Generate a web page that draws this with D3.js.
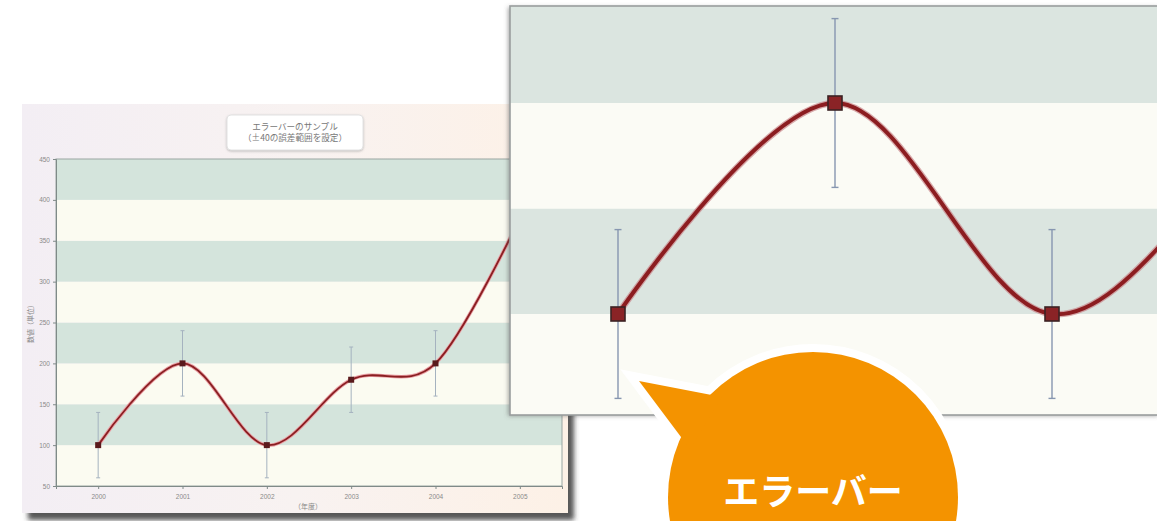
<!DOCTYPE html>
<html><head><meta charset="utf-8">
<script src="https://cdn.jsdelivr.net/npm/d3@7"></script>
<style>
html,body{margin:0;padding:0;background:#fff;}
svg{display:block;font-family:"Noto Sans CJK JP","Noto Sans",sans-serif;}
</style></head>
<body>
<svg id="c" width="1157" height="521"></svg>
<script>
// ---- data ----
const years = ["2000","2001","2002","2003","2004","2005"];
const values = [100, 200, 100, 180, 200, 378];
const errors = [40, 40, 40, 40, 40, 40];
const yTicks = [50,100,150,200,250,300,350,400,450];
const titleLines = ["エラーバーのサンプル","（±40の誤差範囲を設定）"];
const yTitle = "数値（単位）";
const xTitle = "（年度）";
const calloutText = "エラーバー";

const svg = d3.select("#c");
const defs = svg.append("defs");

// gradients / filters
const g1 = defs.append("linearGradient").attr("id","cardBg").attr("x1","0").attr("x2","1").attr("y1","0").attr("y2","0");
g1.append("stop").attr("offset","0").attr("stop-color","#f3eef4");
g1.append("stop").attr("offset","0.5").attr("stop-color","#f8f2f1");
g1.append("stop").attr("offset","1").attr("stop-color","#fdf1e6");
const f1 = defs.append("filter").attr("id","shadow").attr("x","-5%").attr("y","-5%").attr("width","115%").attr("height","120%");
f1.append("feDropShadow").attr("dx",6).attr("dy",7).attr("stdDeviation",2.5).attr("flood-color","#3a3a3a").attr("flood-opacity",0.85);
const f2 = defs.append("filter").attr("id","shadow2").attr("x","-5%").attr("y","-5%").attr("width","115%").attr("height","120%");
f2.append("feDropShadow").attr("dx",-2).attr("dy",1).attr("stdDeviation",2).attr("flood-color","#555").attr("flood-opacity",0.5);
const f3 = defs.append("filter").attr("id","soft").attr("x","-10%").attr("y","-10%").attr("width","120%").attr("height","130%");
f3.append("feDropShadow").attr("dx",0).attr("dy",1).attr("stdDeviation",1).attr("flood-color","#999").attr("flood-opacity",0.6);

// ---------- main chart ----------
const M = {l:56, t:159, r:562, b:486};
const x = d3.scalePoint().domain(years).range([M.l, M.r]).padding(0.5);
const y = d3.scaleLinear().domain([yTicks[0], yTicks[yTicks.length-1]]).range([M.b, M.t]);

svg.append("rect").attr("x",22).attr("y",104).attr("width",546).attr("height",409)
  .attr("fill","url(#cardBg)").attr("filter","url(#shadow)");

const main = svg.append("g");
// stripes
const bands = d3.pairs(yTicks);
main.selectAll("rect.band").data(bands).join("rect").attr("class","band")
  .attr("x",M.l).attr("width",M.r-M.l)
  .attr("y",d=>y(d[1])).attr("height",d=>y(d[0])-y(d[1]))
  .attr("fill",(d,i)=> i%2===0 ? "#fbfbf1" : "#d4e4dc");
main.append("rect").attr("x",M.l).attr("y",M.t).attr("width",M.r-M.l).attr("height",M.b-M.t)
  .attr("fill","none").attr("stroke","#9aa6a2").attr("stroke-width",1);

// axes
const ya = main.append("g").attr("transform",`translate(${M.l},0)`)
  .call(d3.axisLeft(y).tickValues(yTicks).tickSize(3).tickPadding(3));
const xa = main.append("g").attr("transform",`translate(0,${M.b})`)
  .call(d3.axisBottom(x).tickSize(3).tickPadding(5));
[ya,xa].forEach(a=>{
  a.selectAll("path,line").attr("stroke","#7f8a88");
  a.selectAll("text").attr("fill","#8a8a8a").attr("font-size","6.5px");
});

main.append("text").attr("transform","translate(33,322) rotate(-90)").attr("text-anchor","middle")
  .attr("font-size","7px").attr("fill","#888").text(yTitle);
main.append("text").attr("x",308).attr("y",509).attr("text-anchor","middle")
  .attr("font-size","7px").attr("fill","#888").text(xTitle);

// title box
main.append("rect").attr("x",227).attr("y",115).attr("width",136).attr("height",35).attr("rx",4)
  .attr("fill","#fff").attr("stroke","#e2e2e2").attr("filter","url(#soft)");
titleLines.forEach((t,i)=>{
  main.append("text").attr("x",295).attr("y",130+i*11).attr("text-anchor","middle")
    .attr("font-size","8.6px").attr("fill","#777").text(t);
});

const pts = years.map((yr,i)=>({yr, v:values[i], e:errors[i]}));
// error bars
const eb = main.append("g").attr("stroke","#a5b2bf").attr("stroke-width",1);
pts.forEach(p=>{
  const cx = x(p.yr);
  eb.append("line").attr("x1",cx).attr("x2",cx).attr("y1",y(p.v+p.e)).attr("y2",y(p.v-p.e));
  eb.append("line").attr("x1",cx-2).attr("x2",cx+2).attr("y1",y(p.v+p.e)).attr("y2",y(p.v+p.e));
  eb.append("line").attr("x1",cx-2).attr("x2",cx+2).attr("y1",y(p.v-p.e)).attr("y2",y(p.v-p.e));
});
const line = d3.line().x(d=>x(d.yr)).y(d=>y(d.v)).curve(d3.curveCardinal.tension(0));
main.append("path").attr("d",line(pts)).attr("fill","none").attr("stroke","#eaa0a6").attr("stroke-width",3.6);
main.append("path").attr("d",line(pts)).attr("fill","none").attr("stroke","#8a1f22").attr("stroke-width",1.8);
main.selectAll("rect.mk").data(pts).join("rect").attr("class","mk")
  .attr("x",d=>x(d.yr)-3).attr("y",d=>y(d.v)-3).attr("width",6).attr("height",6)
  .attr("fill","#5a1a1c");

// ---------- inset (zoomed) ----------
const I = {l:510, t:6, r:1160, b:415};
const xi = d3.scaleLinear().domain([+years[0], +years[1]]).range([618, 835]);
const yi = d3.scaleLinear().domain([100, 200]).range([314, 103]);
defs.append("clipPath").attr("id","ic").append("rect")
  .attr("x",I.l).attr("y",I.t).attr("width",I.r-I.l).attr("height",I.b-I.t);
svg.append("rect").attr("x",I.l).attr("y",I.t).attr("width",I.r-I.l).attr("height",I.b-I.t)
  .attr("fill","#fbfbf5").attr("filter","url(#shadow2)");
const ins = svg.append("g").attr("clip-path","url(#ic)");
ins.selectAll("rect.band").data(bands).join("rect").attr("class","band")
  .attr("x",I.l).attr("width",I.r-I.l)
  .attr("y",d=>yi(d[1])).attr("height",d=>yi(d[0])-yi(d[1]))
  .attr("fill",(d,i)=> i%2===0 ? "#fbfbf5" : "#dbe5e0");
const eb2 = ins.append("g").attr("stroke","#8796b0").attr("stroke-width",1.4);
pts.forEach(p=>{
  const cx = xi(+p.yr);
  eb2.append("line").attr("x1",cx).attr("x2",cx).attr("y1",yi(p.v+p.e)).attr("y2",yi(p.v-p.e));
  eb2.append("line").attr("x1",cx-3.5).attr("x2",cx+3.5).attr("y1",yi(p.v+p.e)).attr("y2",yi(p.v+p.e));
  eb2.append("line").attr("x1",cx-3.5).attr("x2",cx+3.5).attr("y1",yi(p.v-p.e)).attr("y2",yi(p.v-p.e));
});
const line2 = d3.line().x(d=>xi(+d.yr)).y(d=>yi(d.v)).curve(d3.curveCardinal.tension(0));
ins.append("path").attr("d",line2(pts)).attr("fill","none").attr("stroke","#c9868a").attr("stroke-width",6.5).attr("opacity",0.7);
ins.append("path").attr("d",line2(pts)).attr("fill","none").attr("stroke","#8c1d20").attr("stroke-width",4);
ins.selectAll("rect.mk").data(pts).join("rect").attr("class","mk")
  .attr("x",d=>xi(+d.yr)-7).attr("y",d=>yi(d.v)-7).attr("width",14).attr("height",14)
  .attr("fill","#8a2326").attr("stroke","#3b2224").attr("stroke-width",1.6);
svg.append("rect").attr("x",I.l).attr("y",I.t).attr("width",I.r-I.l).attr("height",I.b-I.t)
  .attr("fill","none").attr("stroke","#9a9e9e").attr("stroke-width",1.6);

// ---------- callout ----------
const cx0 = 813, cy0 = 497, R = 145;
const tri = [[639,381],[722,397],[690,449]];
const co = svg.append("g");
co.append("circle").attr("cx",cx0).attr("cy",cy0).attr("r",R).attr("fill","#fff").attr("stroke","#fff").attr("stroke-width",16);
co.append("polygon").attr("points",tri.map(p=>p.join(",")).join(" ")).attr("fill","#fff")
  .attr("stroke","#fff").attr("stroke-width",16).attr("stroke-linejoin","miter").attr("stroke-miterlimit",10);
co.append("circle").attr("cx",cx0).attr("cy",cy0).attr("r",R).attr("fill","#f49300");
co.append("polygon").attr("points",tri.map(p=>p.join(",")).join(" ")).attr("fill","#f49300");
co.append("text").attr("x",cx0).attr("y",505).attr("text-anchor","middle")
  .attr("font-size","36px").attr("font-weight","bold").attr("fill","#fff").text(calloutText);
</script>
</body></html>
